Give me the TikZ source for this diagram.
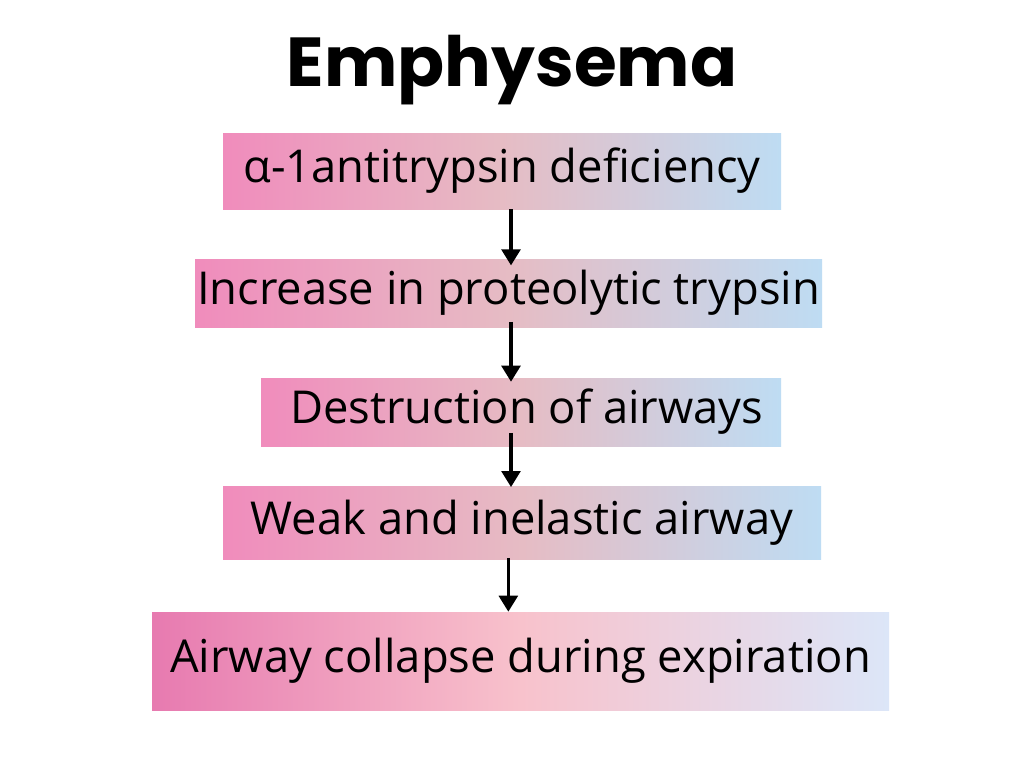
\documentclass[tikz,border=0pt]{standalone}
\usepackage{fontspec}
\setmainfont{Open Sans}
\newfontfamily\titlefont{Poppins}
\usetikzlibrary{arrows.meta,positioning,calc}
\definecolor{pinkL}{HTML}{F08CBC}
\definecolor{mauveM}{HTML}{E6BCC4}
\definecolor{blueR}{HTML}{BEDCF3}
\definecolor{pinkD}{HTML}{E77AB0}
\definecolor{peachM}{HTML}{F8C2CC}
\definecolor{blueP}{HTML}{DCE6F8}
\tikzset{
  title/.style={font=\titlefont\bfseries\fontsize{52}{60}\selectfont,text=black},
  stepbox/.style={shading=axis,left color=pinkL,right color=blueR,middle color=mauveM,
    inner sep=0pt,font=\fontsize{34}{40}\selectfont,text=black},
  lastbox/.style={stepbox,left color=pinkD,right color=blueP,middle color=peachM},
  arr/.style={-{Triangle[length=12pt,width=14pt]},draw=black,line width=2.6pt}
}
\begin{document}
\begin{tikzpicture}[x=0.75pt,y=-0.75pt]
\path[use as bounding box,fill=white] (0,0) rectangle (1024,768);
\node[title] (ttl) at (512,70) {Emphysema};

\node[stepbox,minimum width=558*0.75pt,minimum height=76*0.75pt] (b1) at (502,171) {α-1antitrypsin deficiency};
\node[stepbox,minimum width=627*0.75pt,minimum height=68*0.75pt] (b2) at (508.5,293) {Increase in proteolytic trypsin};
\node[stepbox,minimum width=520*0.75pt,minimum height=68*0.75pt] (b3) at (521,412) {\ Destruction of airways};
\node[stepbox,minimum width=598*0.75pt,minimum height=73*0.75pt] (b4) at (522,522.5) {Weak and inelastic airway};
\node[lastbox,minimum width=737*0.75pt,minimum height=98*0.75pt] (b5) at (520.5,661) {Airway collapse during expiration};

\coordinate (axis) at (511,0);
\draw[arr,shorten >=-5pt] (b1.south -| axis) -- (b2.north -| axis);
\draw[arr,shorten <=-4pt,shorten >=-3pt] (b2.south -| axis) -- (b3.north -| axis);
\draw[arr,shorten <=-10pt,shorten >=-1pt] (b3.south -| axis) -- (b4.north -| axis);
\draw[arr,shorten <=-1pt] ([xshift=-2pt]b4.south -| axis) -- ([xshift=-2pt]b5.north -| axis);
\end{tikzpicture}
\end{document}
